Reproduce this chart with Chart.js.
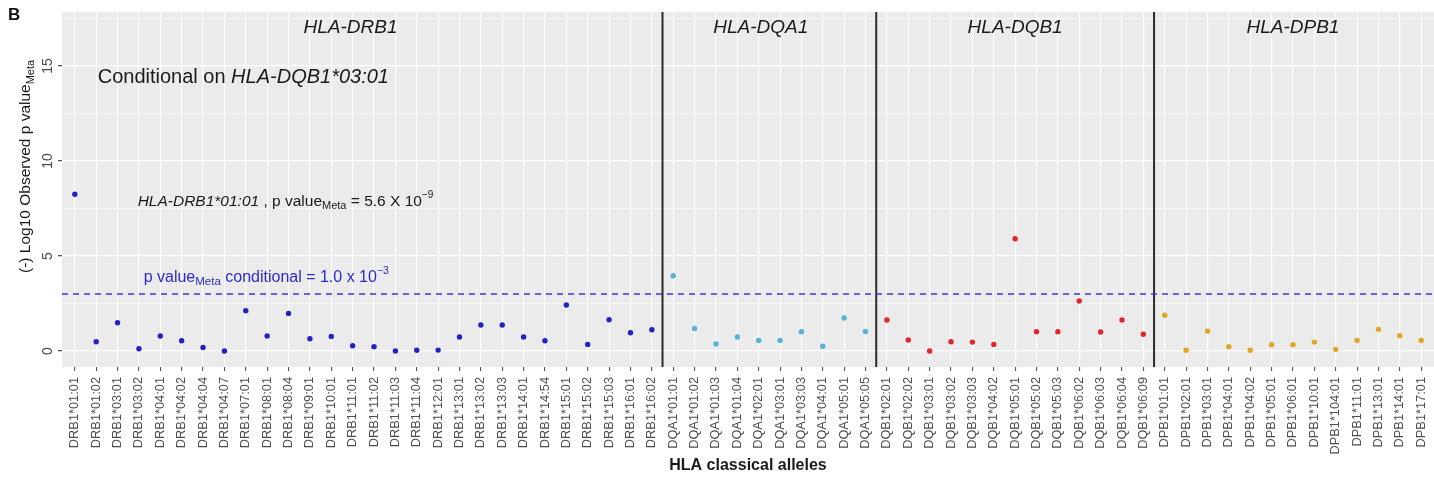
<!DOCTYPE html>
<html>
<head>
<meta charset="utf-8">
<script src="https://cdn.jsdelivr.net/npm/chart.js@4.4.1/dist/chart.umd.min.js"></script>
<style>
  html, body { margin: 0; padding: 0; background: #fff; }
  #wrap { width: 1434px; height: 478px; }
</style>
</head>
<body>
<div id="wrap"><canvas id="chart" width="1434" height="478"></canvas></div>
<script>
// allele names per gene
const drb1Alleles = ['DRB1*01:01','DRB1*01:02','DRB1*03:01','DRB1*03:02','DRB1*04:01','DRB1*04:02','DRB1*04:04','DRB1*04:07','DRB1*07:01','DRB1*08:01','DRB1*08:04','DRB1*09:01','DRB1*10:01','DRB1*11:01','DRB1*11:02','DRB1*11:03','DRB1*11:04','DRB1*12:01','DRB1*13:01','DRB1*13:02','DRB1*13:03','DRB1*14:01','DRB1*14:54','DRB1*15:01','DRB1*15:02','DRB1*15:03','DRB1*16:01','DRB1*16:02'];
const dqa1Alleles = ['DQA1*01:01','DQA1*01:02','DQA1*01:03','DQA1*01:04','DQA1*02:01','DQA1*03:01','DQA1*03:03','DQA1*04:01','DQA1*05:01','DQA1*05:05'];
const dqb1Alleles = ['DQB1*02:01','DQB1*02:02','DQB1*03:01','DQB1*03:02','DQB1*03:03','DQB1*04:02','DQB1*05:01','DQB1*05:02','DQB1*05:03','DQB1*06:02','DQB1*06:03','DQB1*06:04','DQB1*06:09'];
const dpb1Alleles = ['DPB1*01:01','DPB1*02:01','DPB1*03:01','DPB1*04:01','DPB1*04:02','DPB1*05:01','DPB1*06:01','DPB1*10:01','DPB1*104:01','DPB1*11:01','DPB1*13:01','DPB1*14:01','DPB1*17:01'];

// -log10 p values (meta, conditional)
const drb1Values = [8.25,0.49,1.49,0.12,0.79,0.54,0.19,0.0,2.12,0.79,1.98,0.65,0.77,0.28,0.23,0.0,0.04,0.05,0.74,1.37,1.37,0.74,0.54,2.42,0.35,1.65,0.96,1.12];
const dqa1Values = [3.96,1.19,0.37,0.74,0.56,0.56,1.02,0.25,1.74,1.03];
const dqb1Values = [1.63,0.58,0.0,0.49,0.47,0.35,5.91,1.02,1.02,2.63,1.0,1.63,0.88];
const dpb1Values = [1.88,0.04,1.05,0.23,0.04,0.33,0.33,0.47,0.09,0.56,1.14,0.81,0.56];

const geneNames = ['HLA-DRB1','HLA-DQA1','HLA-DQB1','HLA-DPB1'];
const geneColors = ['#2222c4','#55b3d6','#e3262a','#e3a524'];
const yTicks = [0, 5, 10, 15];
const threshold = 3; // p = 1.0 x 10^-3

const groups = [
  [drb1Alleles, drb1Values],
  [dqa1Alleles, dqa1Values],
  [dqb1Alleles, dqb1Values],
  [dpb1Alleles, dpb1Values]
];
const allLabels = [].concat(drb1Alleles, dqa1Alleles, dqb1Alleles, dpb1Alleles);

const xMin = -0.6, xMax = allLabels.length - 1 + 0.6;
const yMin = -0.84, yMax = 17.84;

const datasets = [];
const boundaries = [];
let start = 0;
groups.forEach(([labels, values], g) => {
  datasets.push({
    label: geneNames[g],
    data: values.map((v, i) => ({ x: start + i, y: v })),
    backgroundColor: geneColors[g],
    borderColor: geneColors[g],
    borderWidth: 0,
    pointRadius: 2.7,
    showLine: false
  });
  start += labels.length;
  if (g < groups.length - 1) boundaries.push(start - 0.5);
});

datasets.push({
  label: 'threshold',
  data: [{ x: xMin, y: threshold }, { x: xMax, y: threshold }],
  showLine: true,
  borderColor: '#3b3bd4',
  borderWidth: 1.6,
  borderDash: [6, 5],
  pointRadius: 0
});
boundaries.forEach(b => {
  datasets.push({
    label: 'sep',
    data: [{ x: b, y: yMin }, { x: b, y: yMax }],
    showLine: true,
    borderColor: '#2b2b2b',
    borderWidth: 2,
    pointRadius: 0
  });
});

const FONT = '"Liberation Sans", Arial, sans-serif';

// draws a run of text pieces: [text, font, dy]
function drawRuns(ctx, x, y, runs, color) {
  ctx.fillStyle = color;
  ctx.textBaseline = 'middle';
  ctx.textAlign = 'left';
  let cx = x;
  runs.forEach(([t, f, dy]) => {
    ctx.font = f;
    ctx.fillText(t, cx, y + (dy || 0));
    cx += ctx.measureText(t).width;
  });
  return cx - x;
}

const textPlugin = {
  id: 'texts',
  beforeDraw(chart) {
    const { ctx, chartArea: a } = chart;
    ctx.save();
    ctx.fillStyle = '#ebebeb';
    ctx.fillRect(a.left, a.top, a.right - a.left, a.bottom - a.top);
    ctx.restore();
  },
  afterDraw(chart) {
    const { ctx, scales } = chart;
    const xs = scales.x, ys = scales.y;
    ctx.save();

    // panel tag
    ctx.fillStyle = '#111';
    ctx.font = 'bold 17px ' + FONT;
    ctx.textBaseline = 'middle';
    ctx.textAlign = 'left';
    ctx.fillText('B', 8, 15);

    // y tick labels (rotated)
    ctx.fillStyle = '#4d4d4d';
    ctx.font = '14px ' + FONT;
    yTicks.forEach(v => {
      ctx.save();
      ctx.translate(48, ys.getPixelForValue(v));
      ctx.rotate(-Math.PI / 2);
      ctx.textAlign = 'center';
      ctx.textBaseline = 'middle';
      ctx.fillText(String(v), 0, 0);
      ctx.restore();
    });

    // y axis title
    ctx.save();
    ctx.translate(26, 273);
    ctx.rotate(-Math.PI / 2);
    drawRuns(ctx, 0, 0, [
      ['(-) Log10 Observed p value', '15.5px ' + FONT, 0],
      ['Meta', '11px ' + FONT, 5]
    ], '#1a1a1a');
    ctx.restore();

    // gene titles
    const titleX = [12.9, 32.1, 44, 57];
    ctx.fillStyle = '#1a1a1a';
    ctx.font = 'italic 19px ' + FONT;
    ctx.textAlign = 'center';
    ctx.textBaseline = 'middle';
    geneNames.forEach((n, i) => {
      ctx.fillText(n, xs.getPixelForValue(titleX[i]), ys.getPixelForValue(17.0));
    });

    // annotations
    drawRuns(ctx, xs.getPixelForValue(1.07), ys.getPixelForValue(14.42), [
      ['Conditional on ', '20px ' + FONT, 0],
      ['HLA-DQB1*03:01', 'italic 20px ' + FONT, 0]
    ], '#1a1a1a');

    drawRuns(ctx, xs.getPixelForValue(2.94), ys.getPixelForValue(7.84), [
      ['HLA-DRB1*01:01', 'italic 15.5px ' + FONT, 0],
      [' , p value', '15.5px ' + FONT, 0],
      ['Meta', '11px ' + FONT, 4],
      [' = 5.6 X 10', '15.5px ' + FONT, 0],
      ['\u22129', '10px ' + FONT, -7]
    ], '#1a1a1a');

    drawRuns(ctx, xs.getPixelForValue(3.22), ys.getPixelForValue(3.84), [
      ['p value', '16px ' + FONT, 0],
      ['Meta', '11.5px ' + FONT, 4],
      [' conditional = 1.0 x 10', '16px ' + FONT, 0],
      ['\u22123', '10.5px ' + FONT, -7]
    ], '#2b2bcc');

    ctx.restore();
  }
};

new Chart(document.getElementById('chart'), {
  type: 'scatter',
  data: { datasets },
  options: {
    responsive: false,
    animation: false,
    devicePixelRatio: 1,
    layout: { autoPadding: false, padding: { top: 12, left: 0, right: 0, bottom: 0 } },
    plugins: { legend: { display: false }, tooltip: { enabled: false } },
    scales: {
      x: {
        type: 'linear',
        min: xMin,
        max: xMax,
        afterBuildTicks: s => { s.ticks = allLabels.map((_, i) => ({ value: i })); },
        afterFit: s => { s.height = 111; s.paddingLeft = 0; s.paddingRight = 0; },
        grid: { color: '#ffffff', lineWidth: 1.1, tickColor: '#555', tickLength: 4, drawTicks: true },
        border: { display: false },
        ticks: {
          autoSkip: false,
          minRotation: 90,
          maxRotation: 90,
          padding: 6,
          color: '#4d4d4d',
          font: { family: FONT, size: 12.8 },
          callback: v => allLabels[v]
        },
        title: {
          display: true,
          text: 'HLA classical alleles',
          color: '#1a1a1a',
          font: { family: FONT, size: 16, weight: 'bold' },
          padding: { top: 0, bottom: 3 }
        }
      },
      y: {
        type: 'linear',
        min: yMin,
        max: yMax,
        afterBuildTicks: s => { s.ticks = [0, 2.5, 5, 7.5, 10, 12.5, 15, 17.5].map(v => ({ value: v })); },
        afterFit: s => { s.width = 62; },
        grid: {
          color: '#ffffff',
          lineWidth: c => (c.tick && c.tick.value % 5 === 0 ? 1.3 : 0.6),
          tickColor: c => (c.tick && c.tick.value % 5 === 0 ? '#555' : 'rgba(0,0,0,0)'),
          tickLength: 4
        },
        border: { display: false },
        ticks: { display: false }
      }
    }
  },
  plugins: [textPlugin]
});
</script>
</body>
</html>
